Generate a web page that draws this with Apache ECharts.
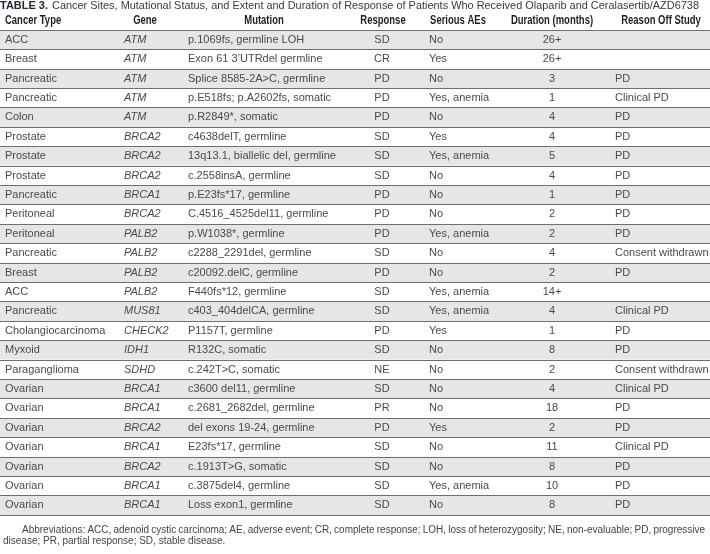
<!DOCTYPE html>
<html>
<head>
<meta charset="utf-8">
<script src="https://cdn.jsdelivr.net/npm/echarts@6/dist/echarts.min.js"></script>
<style>
html,body{margin:0;padding:0;background:#fff;}
#chart{width:710px;height:554px;}
</style>
</head>
<body>
<div id="chart"></div>
<script>
const titleBold = 'TABLE 3.';
const titleText = 'Cancer Sites, Mutational Status, and Extent and Duration of Response of Patients Who Received Olaparib and Ceralasertib/AZD6738';
const headers = ['Cancer Type', 'Gene', 'Mutation', 'Response', 'Serious AEs', 'Duration (months)', 'Reason Off Study'];

const cancerTypes = ['ACC','Breast','Pancreatic','Pancreatic','Colon','Prostate','Prostate','Prostate','Pancreatic','Peritoneal','Peritoneal','Pancreatic','Breast','ACC','Pancreatic','Cholangiocarcinoma','Myxoid','Paraganglioma','Ovarian','Ovarian','Ovarian','Ovarian','Ovarian','Ovarian','Ovarian'];
const genes = ['ATM','ATM','ATM','ATM','ATM','BRCA2','BRCA2','BRCA2','BRCA1','BRCA2','PALB2','PALB2','PALB2','PALB2','MUS81','CHECK2','IDH1','SDHD','BRCA1','BRCA1','BRCA2','BRCA1','BRCA2','BRCA1','BRCA1'];
const mutations = ['p.1069fs, germline LOH','Exon 61 3\u2019UTRdel germline','Splice 8585-2A>C, germline','p.E518fs; p.A2602fs, somatic','p.R2849*, somatic','c4638delT, germline','13q13.1, biallelic del, germline','c.2558insA, germline','p.E23fs*17, germline','C.4516_4525del11, germline','p.W1038*, germline','c2288_2291del, germline','c20092.delC, germline','F440fs*12, germline','c403_404delCA, germline','P1157T, germline','R132C, somatic','c.242T>C, somatic','c3600 del11, germline','c.2681_2682del, germline','del exons 19-24, germline','E23fs*17, germline','c.1913T>G, somatic','c.3875del4, germline','Loss exon1, germline'];
const responses = ['SD','CR','PD','PD','PD','SD','SD','SD','PD','PD','PD','SD','PD','SD','SD','PD','SD','NE','SD','PR','PD','SD','SD','SD','SD'];
const seriousAEs = ['No','Yes','No','Yes, anemia','No','Yes','Yes, anemia','No','No','No','Yes, anemia','No','No','Yes, anemia','Yes, anemia','Yes','No','No','No','No','Yes','No','No','Yes, anemia','No'];
const durations = ['26+','26+','3','1','4','4','5','4','1','2','2','4','2','14+','4','1','8','2','4','18','2','11','8','10','8'];
const reasons = ['','','PD','Clinical PD','PD','PD','PD','PD','PD','PD','PD','Consent withdrawn','PD','','Clinical PD','PD','PD','Consent withdrawn','Clinical PD','PD','PD','Clinical PD','PD','PD','PD'];
const footnote1 = 'Abbreviations: ACC, adenoid cystic carcinoma; AE, adverse event; CR, complete response; LOH, loss of heterozygosity; NE, non-evaluable; PD, progressive';
const footnote2 = 'disease; PR, partial response; SD, stable disease.';

const rowIds = cancerTypes.map((_, i) => String(i));
const columns = [
  {values: cancerTypes, x: 5, align: 'left'},
  {values: genes, x: 124, align: 'left', italic: true},
  {values: mutations, x: 188, align: 'left'},
  {values: responses, x: 382, align: 'center'},
  {values: seriousAEs, x: 429, align: 'left'},
  {values: durations, x: 552, align: 'center'},
  {values: reasons, x: 615, align: 'left'}
];
const headerPos = [
  {x: 5, align: 'left'}, {x: 145, align: 'center'}, {x: 264, align: 'center'},
  {x: 383, align: 'center'}, {x: 458, align: 'center'}, {x: 552, align: 'center'}, {x: 661, align: 'center'}
];

const bodyFont = '"Liberation Sans", Arial, sans-serif';
const boldFont = '"Liberation Sans", Arial, sans-serif';

// text measuring helper (layout only)
const mctx = document.createElement('canvas').getContext('2d');
function measure(text, font) { mctx.font = font; return mctx.measureText(text).width; }

// title fit
const titleFontSize = 11.5;
const titleW = measure(titleText, titleFontSize + 'px "Liberation Sans"');
const titleScale = (699 - 52) / titleW;
const boldW = measure(titleBold, 'bold ' + titleFontSize + 'px "Liberation Sans"');
const boldScale = 48 / boldW;

// justified footnote line 1
const footSize = 10;
const footFont = footSize + 'px "Liberation Sans"';
const fWords = footnote1.split(' ');
const fWidths = fWords.map(w => measure(w, footFont));
const fSum = fWidths.reduce((a, b) => a + b, 0);
const fStart = 22, fEnd = 705;
const minGap = 2.2;
let fGap = (fEnd - fStart - fSum) / (fWords.length - 1);
let fScale = 1;
if (fGap < minGap) {
  fGap = minGap;
  fScale = (fEnd - fStart - minGap * (fWords.length - 1)) / fSum;
}
const footGraphics = [];
let fx = fStart;
fWords.forEach((w, k) => {
  footGraphics.push({type: 'text', x: fx, y: 530, scaleX: fScale, style: {text: w, textVerticalAlign: 'middle', fontFamily: bodyFont, fontSize: footSize, fill: '#444'}});
  fx += fWidths[k] * fScale + fGap;
});
footGraphics.push({type: 'text', x: 3, y: 541, style: {text: footnote2, textVerticalAlign: 'middle', fontFamily: bodyFont, fontSize: footSize, fill: '#444'}});

const chart = echarts.init(document.getElementById('chart'), null, {renderer: 'canvas'});
chart.setOption({
  animation: false,
  grid: {left: 0, right: 0, top: 30, bottom: 39},
  xAxis: {type: 'value', min: 0, max: 710, show: false},
  yAxis: {
    type: 'category', data: rowIds, inverse: true,
    axisLabel: {show: false}, axisTick: {show: false}, axisLine: {show: false},
    splitArea: {show: true, areaStyle: {color: ['#e6e6e6', '#ffffff']}},
    splitLine: {show: true, lineStyle: {color: '#6f6f6f', width: 1}}
  },
  graphic: [
    {type: 'text', x: 0, y: 6, scaleX: boldScale, style: {
      text: titleBold, textVerticalAlign: 'middle', fontWeight: 'bold', fontSize: titleFontSize, fontFamily: boldFont, fill: '#23263a'}},
    {type: 'text', x: 52, y: 6, scaleX: titleScale, style: {
      text: titleText, textVerticalAlign: 'middle', fontSize: titleFontSize, fontFamily: bodyFont, fill: '#3a3a3a'}},
    ...headers.map((h, k) => ({
      type: 'text', x: headerPos[k].x, y: 21, scaleX: 0.79,
      style: {text: h, textAlign: headerPos[k].align, textVerticalAlign: 'middle',
        fontFamily: boldFont, fontWeight: 'bold', fontSize: 12, fill: '#1e1e1e'}
    })),
    ...footGraphics
  ],
  series: [{
    type: 'custom',
    coordinateSystem: 'cartesian2d',
    data: rowIds.map((id, i) => [0, i]),
    encode: {x: 0, y: 1},
    renderItem: function (params, api) {
      const i = params.dataIndex;
      const y = api.coord([0, i])[1];
      return {
        type: 'group',
        children: columns.map(col => ({
          type: 'text',
          x: api.coord([col.x, i])[0], y: y,
          style: {
            text: col.values[i], textAlign: col.align, textVerticalAlign: 'middle',
            fontFamily: bodyFont, fontSize: 11, fill: '#4a4a4a',
            fontStyle: col.italic ? 'italic' : 'normal'
          }
        }))
      };
    }
  }]
});
</script>
</body>
</html>
